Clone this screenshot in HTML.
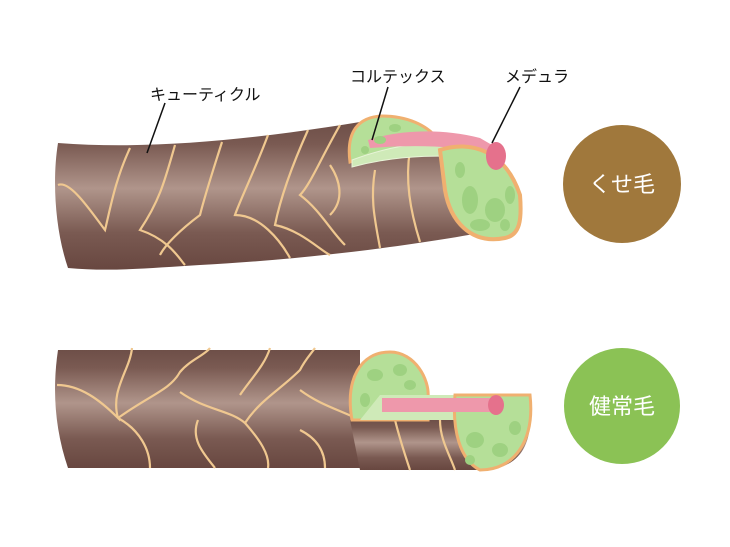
<!DOCTYPE html>
<html><head><meta charset="utf-8"><style>
html,body{margin:0;padding:0;background:#fff;}
svg{display:block;}
text{font-family:"Liberation Sans","Noto Sans CJK JP",sans-serif;}
</style></head><body>
<svg width="730" height="547" viewBox="0 0 730 547" xmlns="http://www.w3.org/2000/svg">
<defs>
<linearGradient id="br" x1="0" y1="0" x2="0" y2="1">
<stop offset="0" stop-color="#6e4f48"/><stop offset="0.15" stop-color="#7a5a52"/><stop offset="0.45" stop-color="#b0958b"/><stop offset="0.75" stop-color="#7a5a52"/><stop offset="1" stop-color="#684740"/>
</linearGradient>
</defs>
<!-- top hair -->
<path d="M58,143 C150,150 250,140 360,122 L440,140 C470,150 500,170 495,230 C420,245 300,260 200,265 C150,268 110,272 68,268 C55,230 52,180 58,143 Z" fill="url(#br)"/>
<g fill="none" stroke="#f0c890" stroke-width="2.2">
<path d="M130,148 C115,180 110,210 105,230 C90,210 70,180 58,185"/>
<path d="M175,145 C165,180 160,200 140,230 C170,240 180,260 185,265"/>
<path d="M222,142 C210,180 205,195 200,215 C180,230 165,245 160,255"/>
<path d="M268,135 C255,170 240,200 235,215 C260,215 280,240 290,258"/>
<path d="M308,130 C290,170 280,200 275,225 C300,230 320,250 330,255"/>
<path d="M340,125 C320,160 310,185 300,195 C320,210 330,230 345,245"/>
<path d="M410,150 C405,180 410,210 420,242"/>
<path d="M375,170 C370,200 375,220 380,248"/>
<path d="M330,165 C340,180 345,200 330,215"/>
</g>
<!-- cortex top part -->
<path d="M350,162 C346,132 358,117 382,116 C405,116 428,124 440,142 C410,147 380,152 350,162 Z" fill="#b5df98" stroke="#f0b070" stroke-width="3"/>
<path d="M352,160 C400,142 440,140 470,145 L492,150 L490,160 C450,154 400,154 352,167 Z" fill="#cfeab8" stroke="#e8f4d8" stroke-width="1"/>
<path d="M368,140 C400,130 440,128 480,138 L492,145 L488,153 C450,145 410,145 370,148 Z" fill="#ee98ab"/>
<!-- end cap -->
<path d="M440,150 C470,140 505,150 520,195 C522,220 520,235 505,238 C470,245 450,220 445,190 Z" fill="#b5df98" stroke="#f0b070" stroke-width="4"/>
<ellipse cx="496" cy="156" rx="10" ry="14" fill="#e5718c"/>
<g fill="#9ed181">
<ellipse cx="470" cy="200" rx="8" ry="14"/><ellipse cx="495" cy="210" rx="10" ry="12"/><ellipse cx="480" cy="225" rx="10" ry="6"/><ellipse cx="510" cy="195" rx="5" ry="9"/><ellipse cx="460" cy="170" rx="5" ry="8"/><ellipse cx="505" cy="225" rx="5" ry="6"/>
<ellipse cx="380" cy="140" rx="6" ry="4"/><ellipse cx="395" cy="128" rx="6" ry="4"/><ellipse cx="365" cy="150" rx="4" ry="4"/>
</g>
<!-- bottom hair -->
<path d="M58,350 L360,350 L360,468 L68,468 C55,430 52,390 58,350 Z" fill="url(#br)"/>
<path d="M350,420 L530,420 C530,450 515,470 480,470 L360,470 Z" fill="url(#br)"/>
<g fill="none" stroke="#f0c890" stroke-width="2.2">
<path d="M57,385 C80,385 100,400 118,418 C110,390 130,370 132,348"/>
<path d="M118,418 C140,430 150,450 150,468"/>
<path d="M118,418 C150,395 170,390 180,372 C190,360 205,355 210,348"/>
<path d="M180,392 C205,410 230,410 245,423 C260,440 270,455 268,468"/>
<path d="M245,423 C260,400 280,390 300,370 C305,360 310,355 315,348"/>
<path d="M300,390 C320,405 340,410 360,420"/>
<path d="M198,420 C190,440 205,455 215,468"/>
<path d="M270,348 C265,365 250,380 240,395"/>
<path d="M300,430 C320,440 325,455 325,468"/>
<path d="M395,420 C400,440 405,455 410,470"/>
<path d="M440,420 C440,440 450,455 455,470"/>
</g>
<path d="M352,420 C345,380 360,352 390,352 C415,352 430,380 428,398 L428,420 Z" fill="#b5df98" stroke="#f0b070" stroke-width="3"/>
<path d="M380,395 L530,395 L530,420 L360,420 Z" fill="#cfeab8"/>
<path d="M455,395 L530,395 C535,440 515,470 480,470 C460,460 452,430 455,395 Z" fill="#b5df98" stroke="#f0b070" stroke-width="3"/>
<rect x="382" y="398" width="112" height="14" fill="#ee98ab"/>
<ellipse cx="496" cy="405" rx="8" ry="10" fill="#e5718c"/>
<g fill="#9ed181">
<ellipse cx="375" cy="375" rx="8" ry="6"/><ellipse cx="400" cy="370" rx="7" ry="6"/><ellipse cx="365" cy="400" rx="5" ry="7"/><ellipse cx="410" cy="385" rx="6" ry="5"/>
<ellipse cx="475" cy="440" rx="9" ry="8"/><ellipse cx="500" cy="450" rx="8" ry="7"/><ellipse cx="515" cy="428" rx="6" ry="7"/><ellipse cx="470" cy="460" rx="5" ry="5"/>
</g>
<!-- labels -->
<g stroke="#111" stroke-width="1.5" fill="none">
<line x1="165" y1="103" x2="147" y2="153"/>
<line x1="388" y1="87" x2="372" y2="140"/>
<line x1="520" y1="87" x2="492" y2="143"/>
</g>
<text x="150" y="100" font-size="16" fill="#111">キューティクル</text>
<text x="350" y="82" font-size="16" fill="#111">コルテックス</text>
<text x="505" y="82" font-size="16" fill="#111">メデュラ</text>
<circle cx="622" cy="184" r="59" fill="#a0783c"/>
<circle cx="622" cy="406" r="58" fill="#8bc255"/>
<text x="622" y="192" font-size="22" fill="#fff" text-anchor="middle">くせ毛</text>
<text x="622" y="414" font-size="22" fill="#fff" text-anchor="middle">健常毛</text>
</svg>
</body></html>
